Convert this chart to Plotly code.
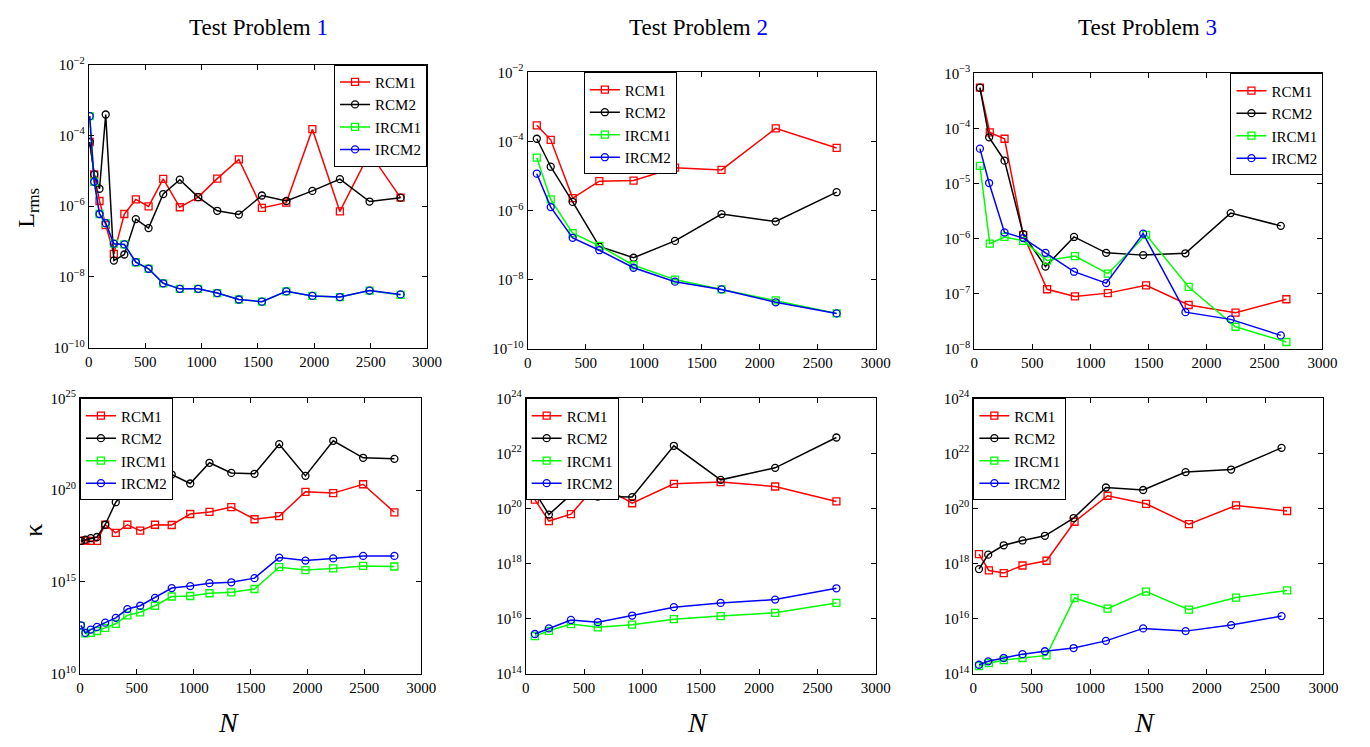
import plotly.graph_objects as go

W, H = 1370, 747

# ---------------- data ----------------
N1 = [8, 48, 95, 150, 222, 315, 417, 530, 660, 807, 970, 1139, 1331, 1535, 1752, 1983, 2227, 2490, 2765]
N2 = [79, 199, 388, 618, 913, 1270, 1671, 2138, 2663]
N3_sq = [48, 133, 260, 421, 627, 867, 1150, 1480, 1847, 2251, 2689]
N3_ci = [48, 127, 260, 421, 613, 859, 1136, 1455, 1819, 2209, 2641]

# Test problem 1 - Lrms
tp1_rms_rcm1 = [6.5e-5, 7.9e-6, 1.4e-6, 2.9e-7, 4.5e-8, 6.0e-7, 1.55e-6, 9.8e-7, 5.9e-6, 9.3e-7,
                1.8e-6, 6.0e-6, 2.1e-5, 8.9e-7, 1.26e-6, 1.5e-4, 7.1e-7, 3.2e-5, 1.74e-6]
tp1_rms_rcm2 = [6.5e-5, 7.9e-6, 3.1e-6, 3.9e-4, 2.9e-8, 4.3e-8, 4.3e-7, 2.4e-7, 2.2e-6, 5.6e-6,
                1.8e-6, 7.4e-7, 5.8e-7, 2.0e-6, 1.4e-6, 2.7e-6, 5.8e-6, 1.35e-6, 1.74e-6]
tp1_rms_ircm1 = [3.5e-4, 4.9e-6, 6.0e-7, 3.3e-7, 8.7e-8, 8.3e-8, 2.6e-8, 1.7e-8, 6.6e-9, 4.6e-9,
                 4.6e-9, 3.5e-9, 2.3e-9, 2.0e-9, 3.9e-9, 2.9e-9, 2.7e-9, 4.1e-9, 3.1e-9]
tp1_rms_ircm2 = [3.5e-4, 4.9e-6, 6.0e-7, 3.3e-7, 8.7e-8, 8.3e-8, 2.6e-8, 1.7e-8, 6.6e-9, 4.6e-9,
                 4.6e-9, 3.5e-9, 2.3e-9, 2.0e-9, 3.9e-9, 2.9e-9, 2.7e-9, 4.1e-9, 3.2e-9]
# Test problem 1 - kappa
tp1_k_rcm1 = [1.7e17, 1.8e17, 1.7e17, 1.7e17, 1.3e18, 4.7e17, 1.3e18, 6.2e17, 1.3e18, 1.26e18,
              5.0e18, 6.5e18, 1.2e19, 2.6e18, 3.8e18, 8.1e19, 6.9e19, 2.1e20, 6.2e18]
tp1_k_rcm2 = [1.7e17, 2.0e17, 2.4e17, 2.8e17, 1.3e18, 2.2e19, 1.2e20, 1.9e20, 5.0e20, 7.1e20,
              2.3e20, 3.1e21, 8.7e20, 7.8e20, 3.2e22, 6.0e20, 4.9e22, 5.8e21, 5.1e21]
tp1_k_ircm1 = [4.0e12, 1.55e12, 1.66e12, 2.1e12, 3.1e12, 5.2e12, 1.5e13, 2.2e13, 5.0e13, 1.6e14,
               1.7e14, 2.4e14, 2.7e14, 4.1e14, 6.3e15, 4.4e15, 5.4e15, 7.4e15, 6.9e15]
tp1_k_ircm2 = [4.3e12, 1.66e12, 2.5e12, 3.5e12, 6.0e12, 1.1e13, 3.3e13, 5.0e13, 1.35e14, 4.6e14,
               5.9e14, 8.5e14, 9.5e14, 1.6e15, 2.1e16, 1.45e16, 1.9e16, 2.6e16, 2.6e16]

# Test problem 2
tp2_rms_rcm1 = [2.95e-4, 1.12e-4, 2.3e-6, 7.1e-6, 7.4e-6, 1.74e-5, 1.5e-5, 2.4e-4, 6.5e-5]
tp2_rms_rcm2 = [1.2e-4, 1.86e-5, 1.78e-6, 9.1e-8, 4.3e-8, 1.32e-7, 7.9e-7, 4.8e-7, 3.4e-6]
tp2_rms_ircm1 = [3.4e-5, 2.1e-6, 2.2e-7, 9.5e-8, 2.6e-8, 1.0e-8, 5.2e-9, 2.5e-9, 1.05e-9]
tp2_rms_ircm2 = [1.17e-5, 1.26e-6, 1.62e-7, 7.1e-8, 2.2e-8, 8.7e-9, 5.2e-9, 2.2e-9, 1.05e-9]
tp2_k_rcm1 = [2.1e20, 3.5e19, 6.2e19, 7.9e20, 1.55e20, 7.9e20, 9.1e20, 6.3e20, 1.8e20]
tp2_k_rcm2 = [4.0e20, 6.0e19, 3.2e20, 2.7e20, 2.6e20, 1.9e22, 1.1e21, 3.0e21, 3.8e22]
tp2_k_ircm1 = [2.3e15, 3.6e15, 6.3e15, 4.8e15, 6.0e15, 9.5e15, 1.23e16, 1.62e16, 3.7e16]
tp2_k_ircm2 = [2.75e15, 4.4e15, 8.9e15, 7.4e15, 1.29e16, 2.6e16, 3.7e16, 4.9e16, 1.26e17]

# Test problem 3
tp3_rms_rcm1 = [5.5e-4, 8.5e-5, 6.5e-5, 1.17e-6, 1.2e-7, 8.9e-8, 1.02e-7, 1.41e-7, 6.2e-8, 4.5e-8, 7.9e-8]
tp3_rms_rcm2 = [5.5e-4, 6.9e-5, 2.6e-5, 1.2e-6, 3.1e-7, 1.07e-6, 5.5e-7, 5.0e-7, 5.4e-7, 2.9e-6, 1.7e-6]
tp3_rms_ircm1 = [2.1e-5, 8.1e-7, 1.07e-6, 9.1e-7, 4.0e-7, 4.8e-7, 2.3e-7, 1.17e-6, 1.32e-7, 2.5e-8, 1.32e-8]
tp3_rms_ircm2 = [4.3e-5, 1.02e-5, 1.29e-6, 1.02e-6, 5.5e-7, 2.5e-7, 1.55e-7, 1.23e-6, 4.6e-8, 3.4e-8, 1.74e-8]
tp3_k_rcm1 = [2.2e18, 5.6e17, 4.5e17, 8.5e17, 1.26e18, 3.3e19, 2.9e20, 1.48e20, 2.7e19, 1.29e20, 8.1e19]
tp3_k_rcm2 = [6.3e17, 2.1e18, 4.6e18, 6.9e18, 1.02e19, 4.5e19, 5.8e20, 4.7e20, 2.1e21, 2.6e21, 1.6e22]
tp3_k_ircm1 = [1.86e14, 2.4e14, 3.1e14, 3.7e14, 4.6e14, 5.6e16, 2.3e16, 9.5e16, 2.1e16, 5.8e16, 1.05e17]
tp3_k_ircm2 = [2.1e14, 2.8e14, 3.7e14, 5.1e14, 6.5e14, 8.5e14, 1.55e15, 4.4e15, 3.5e15, 5.8e15, 1.23e16]

names = ["RCM1", "RCM2", "IRCM1", "IRCM2"]
colors = ["#ff0000", "#000000", "#00ff00", "#0000ff"]
symbols = ["square-open", "circle-open", "square-open", "circle-open"]

x_ticks = [0, 500, 1000, 1500, 2000, 2500, 3000]
panels = [
    ("x", "y", "legend", [N1, N1, N1, N1],
     [tp1_rms_rcm1, tp1_rms_rcm2, tp1_rms_ircm1, tp1_rms_ircm2], [-10, -2], [-10, -8, -6, -4, -2]),
    ("x2", "y2", "legend2", [N2, N2, N2, N2],
     [tp2_rms_rcm1, tp2_rms_rcm2, tp2_rms_ircm1, tp2_rms_ircm2], [-10, -2], [-10, -8, -6, -4, -2]),
    ("x3", "y3", "legend3", [N3_sq, N3_ci, N3_sq, N3_ci],
     [tp3_rms_rcm1, tp3_rms_rcm2, tp3_rms_ircm1, tp3_rms_ircm2], [-8, -3], [-8, -7, -6, -5, -4, -3]),
    ("x4", "y4", "legend4", [N1, N1, N1, N1],
     [tp1_k_rcm1, tp1_k_rcm2, tp1_k_ircm1, tp1_k_ircm2], [10, 25], [10, 15, 20, 25]),
    ("x5", "y5", "legend5", [N2, N2, N2, N2],
     [tp2_k_rcm1, tp2_k_rcm2, tp2_k_ircm1, tp2_k_ircm2], [14, 24], [14, 16, 18, 20, 22, 24]),
    ("x6", "y6", "legend6", [N3_sq, N3_ci, N3_sq, N3_ci],
     [tp3_k_rcm1, tp3_k_rcm2, tp3_k_ircm1, tp3_k_ircm2], [14, 24], [14, 16, 18, 20, 22, 24]),
]

# pixel boxes: (left, right, top, bottom)
boxes = [(86, 429, 56, 346), (531, 884, 64, 347), (984, 1337, 65, 347),
         (77, 423, 398, 680), (529, 884, 398, 680), (983, 1338, 398, 680)]
# legend anchors: (x px, y px, xanchor)
leg_pos = [(429, 56, "right"), (588, 64, "left"), (1338, 65, "right"),
           (77, 398, "left"), (529, 398, "left"), (983, 398, "left")]

FONT = "Liberation Serif, Times New Roman, DejaVu Serif, serif"

fig = go.Figure()
layout = dict(width=W, height=H, margin=dict(l=0, r=0, t=0, b=0),
              paper_bgcolor="white", plot_bgcolor="white",
              font=dict(family=FONT, size=15, color="black"))

for i, (xa, ya, lg, xs, ys, rng, exps) in enumerate(panels):
    for j in range(4):
        fig.add_trace(go.Scatter(
            x=xs[j], y=ys[j], name=names[j], mode="lines+markers",
            line=dict(color=colors[j], width=1.5),
            marker=dict(symbol=symbols[j], size=7, color=colors[j], line=dict(width=1.3, color=colors[j])),
            xaxis=xa, yaxis=ya, legend=lg, showlegend=True))
    l, r, t, b = boxes[i]
    xkey = "xaxis" if xa == "x" else "xaxis" + xa[1:]
    ykey = "yaxis" if ya == "y" else "yaxis" + ya[1:]
    axcommon = dict(showline=True, linecolor="black", linewidth=1, mirror="ticks",
                    ticks="inside", ticklen=5, tickwidth=1, tickcolor="black",
                    showgrid=False, zeroline=False,
                    tickfont=dict(family=FONT, size=15, color="black"))
    layout[xkey] = dict(domain=[l / W, r / W], anchor=ya, range=[0, 3000],
                        tickmode="array", tickvals=x_ticks, ticktext=[str(v) for v in x_ticks],
                        **axcommon)
    layout[ykey] = dict(domain=[1 - b / H, 1 - t / H], anchor=xa, type="log", range=rng,
                        tickmode="array", tickvals=[10.0 ** e for e in exps],
                        ticktext=["10<sup>%s</sup>" % (str(e).replace("-", "\u2212")) for e in exps],
                        **axcommon)
    lx, ly, xan = leg_pos[i]
    layout[lg] = dict(x=lx / W, y=1 - ly / H, xanchor=xan, yanchor="top",
                      bgcolor="white", bordercolor="black", borderwidth=1,
                      font=dict(family=FONT, size=15, color="black"),
                      itemwidth=30, tracegroupgap=0)

ann = []
for cx, k in [(258, 1), (704, 2), (1160, 3)]:
    ann.append(dict(text="Test Problem <span style='color:#0000ff'>%d</span>" % k,
                    x=cx / W, y=1 - 18 / H, xref="paper", yref="paper",
                    xanchor="center", yanchor="middle", showarrow=False,
                    font=dict(family=FONT, size=23, color="black")))
for cx in [228, 703, 1157]:
    ann.append(dict(text="<i>N</i>", x=cx / W, y=1 - 730 / H, xref="paper", yref="paper",
                    xanchor="center", yanchor="middle", showarrow=False,
                    font=dict(family=FONT, size=28, color="black")))
ann.append(dict(text="L<sub>rms</sub>", x=24 / W, y=1 - 203 / H, xref="paper", yref="paper",
                xanchor="center", yanchor="middle", showarrow=False, textangle=-90,
                font=dict(family=FONT, size=24, color="black")))
ann.append(dict(text="\u03ba", x=30 / W, y=1 - 533 / H, xref="paper", yref="paper",
                xanchor="center", yanchor="middle", showarrow=False, textangle=-90,
                font=dict(family=FONT, size=26, color="black")))
layout["annotations"] = ann

fig.update_layout(**layout)
fig.write_html("out.html",
               post_script="document.body.style.margin='0';document.body.style.padding='0';")
